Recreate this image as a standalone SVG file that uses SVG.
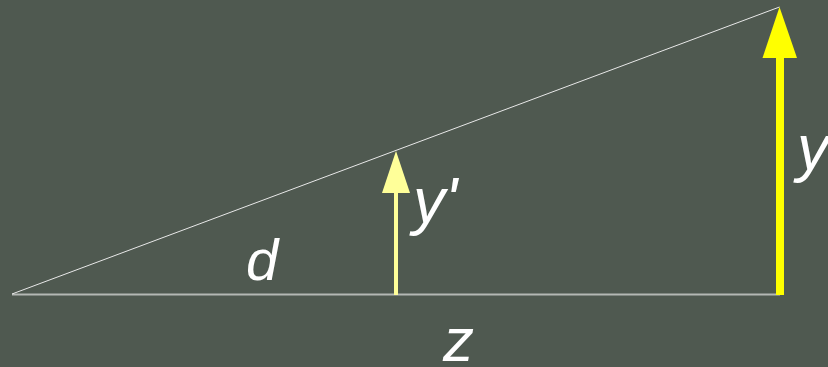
<svg xmlns="http://www.w3.org/2000/svg" width="828" height="367" viewBox="0 0 828 367">
<style>
.lbl{font-family:"Liberation Sans",Arial,sans-serif;font-style:italic;font-size:64px;fill:#ffffff}
</style>
<rect width="828" height="367" fill="#4f5950"/>
<g id="connectors">
<line x1="12" y1="294.5" x2="780" y2="294.5" stroke="#b4b8b4" stroke-width="2"/>
<line x1="12" y1="294" x2="779.5" y2="7" stroke="#e8e8e8" stroke-width="1"/>
</g>
<g id="arrow-y">
<rect x="776" y="56" width="8" height="239" fill="#ffff00"/>
<polygon points="779.5,7 797,58 762.5,58" fill="#ffff00"/>
</g>
<g id="arrow-yprime">
<rect x="394" y="190" width="4" height="105" fill="#ffff99"/>
<polygon points="396,151 410,193 382,193" fill="#ffff99"/>
</g>
<g id="labels">
<text class="lbl" x="246" y="280" style="font-size:58px">d</text>
<text class="lbl" x="443" y="361" style="font-size:62px">z</text>
<text class="lbl" x="413" y="223">y'</text>
<text class="lbl" x="797" y="170">y</text>
</g>
</svg>
